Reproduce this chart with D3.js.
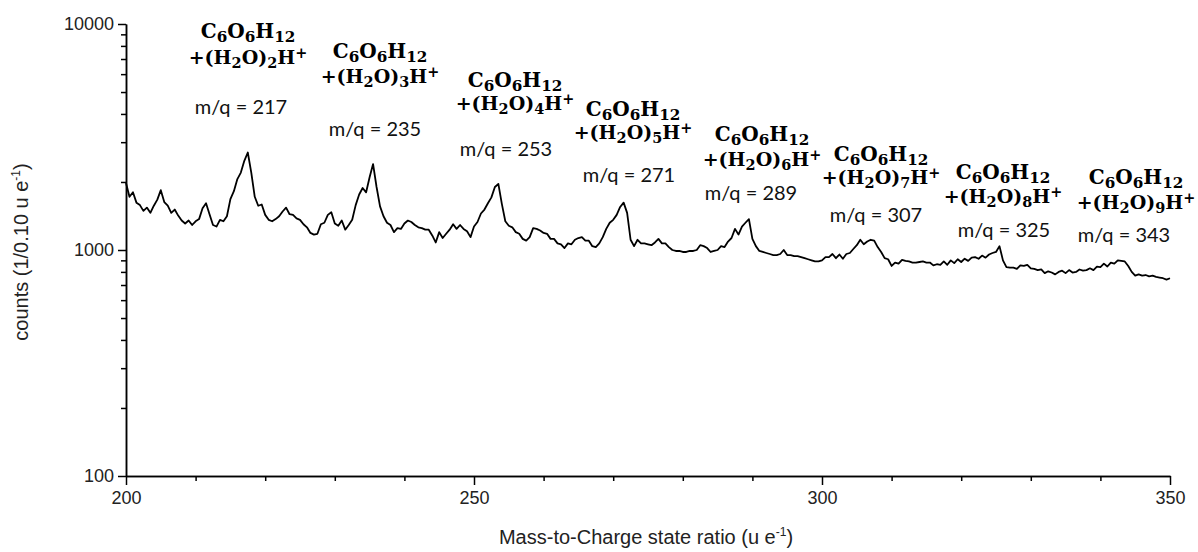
<!DOCTYPE html>
<html>
<head>
<meta charset="utf-8">
<script src="https://cdn.jsdelivr.net/npm/d3@7"></script>
<style>
  body { margin: 0; background: #fff; }
  svg { display: block; }
  .axis path, .axis line { stroke: #000; stroke-width: 1.5; }
  .axis text { font-family: "Liberation Sans", Arial, sans-serif; font-size: 18px; fill: #222; }
</style>
</head>
<body>
<div id="chart"></div>
<script>
// m/q values, 0.5 step from 200 to 350
var mzStart = 200, mzStep = 0.5;
// counts, one row per 10 u e-1
var counts = [
  1980,1720,1800,1620,1580,1490,1540,1460,1570,1670,1840,1630,1570,1460,1510,1420,1350,1310,1350,1290,
  1340,1370,1530,1610,1440,1290,1270,1360,1340,1410,1680,1820,2060,2200,2480,2700,2200,1720,1570,1590,
  1430,1360,1340,1370,1410,1480,1540,1440,1430,1380,1360,1300,1260,1190,1170,1180,1300,1320,1430,1470,
  1310,1280,1350,1230,1290,1360,1580,1760,1880,1800,2100,2400,1900,1560,1410,1320,1290,1200,1250,1240,
  1310,1350,1330,1290,1260,1250,1230,1230,1160,1080,1200,1130,1180,1230,1300,1240,1290,1240,1210,1140,
  1270,1330,1450,1510,1610,1710,1900,1960,1600,1340,1280,1260,1200,1180,1120,1100,1140,1250,1240,1220,
  1190,1180,1120,1120,1070,1060,1020,1070,1060,1110,1130,1140,1100,1100,1040,1030,1070,1140,1240,1320,
  1360,1430,1550,1620,1460,1110,1040,1110,1070,1070,1060,1050,1080,1120,1070,1070,1030,1000,990,990,
  980,980,990,990,1000,1050,1040,1020,980,990,1000,1040,1030,1090,1130,1240,1170,1270,1320,1370,
  1120,1040,990,980,970,960,950,950,960,1000,950,950,940,940,930,920,910,900,890,890,
  900,930,930,960,920,955,915,960,970,1010,1050,1110,1060,1090,1110,1100,1030,980,920,910,
  850,880,870,905,895,890,880,880,885,890,880,880,855,865,860,890,860,900,875,910,
  885,915,895,925,930,915,945,925,955,970,980,1040,900,840,835,835,825,855,850,860,
  830,825,815,820,790,805,795,780,800,810,790,815,795,800,820,810,815,830,815,845,
  840,870,845,880,870,900,895,890,850,800,770,780,770,775,765,770,760,755,750,740,750
];
var mz = counts.map(function(d, i) { return mzStart + i * mzStep; });

// peak annotations
var waters = [2, 3, 4, 5, 6, 7, 8, 9];
var peakMq = [217, 235, 253, 271, 289, 307, 325, 343];

// label placement (text centre x, centre y of formula line 1, line 2, m/q line)
var labelLayout = [
  {fx: 248, mx: 241, y1: 31, y2: 58, y3: 107},
  {fx: 380, mx: 375, y1: 51, y2: 77, y3: 129},
  {fx: 515, mx: 506, y1: 80, y2: 104, y3: 149},
  {fx: 633, mx: 629, y1: 109, y2: 133, y3: 175},
  {fx: 762, mx: 751, y1: 134, y2: 160, y3: 193},
  {fx: 881, mx: 876, y1: 154, y2: 178, y3: 215},
  {fx: 1003, mx: 1004, y1: 172, y2: 197, y3: 230},
  {fx: 1136, mx: 1124, y1: 177, y2: 203, y3: 235}
];

var W = 1198, H = 552;
var margin = {top: 24, right: 28, bottom: 76, left: 126},
    width = W - margin.left - margin.right,
    height = H - margin.top - margin.bottom;

var svg = d3.select("#chart").append("svg")
  .attr("width", W).attr("height", H);
var g = svg.append("g")
  .attr("transform", "translate(" + margin.left + "," + margin.top + ")");

var x = d3.scaleLinear().domain([200, 350]).range([0, width]);
var y = d3.scaleLog().domain([100, 10000]).range([height, 0]);

// x axis: majors + minors
var xMinor = d3.range(210, 350, 10).filter(function(v) { return v % 50 !== 0; });
g.append("g").attr("class", "axis")
  .attr("transform", "translate(0," + height + ")")
  .call(d3.axisBottom(x).tickValues(xMinor).tickSize(5).tickSizeOuter(0).tickFormat(""));
g.append("g").attr("class", "axis")
  .attr("transform", "translate(0," + height + ")")
  .call(d3.axisBottom(x).tickValues([200, 250, 300, 350]).tickSize(9).tickSizeOuter(0).tickPadding(6).tickFormat(d3.format("d")));

// y axis: decades + minors
var yMinor = [];
[100, 1000].forEach(function(dec) { for (var k = 2; k <= 9; k++) yMinor.push(dec * k); });
g.append("g").attr("class", "axis")
  .call(d3.axisLeft(y).tickValues(yMinor).tickSize(5).tickSizeOuter(0).tickFormat(""));
g.append("g").attr("class", "axis")
  .call(d3.axisLeft(y).tickValues([100, 1000, 10000]).tickSize(8).tickSizeOuter(0).tickPadding(4).tickFormat(d3.format("d")));

// spectrum
var line = d3.line()
  .x(function(d, i) { return x(mz[i]); })
  .y(function(d) { return y(d); });
g.append("path")
  .datum(counts)
  .attr("d", line)
  .attr("fill", "none")
  .attr("stroke", "#000")
  .attr("stroke-width", 1.8)
  .attr("stroke-linejoin", "round");

// axis titles
var xt = svg.append("text")
  .attr("x", margin.left + width / 2 - 2).attr("y", 544)
  .attr("text-anchor", "middle")
  .style("font-family", "Liberation Sans, Arial, sans-serif")
  .style("font-size", "20px").style("fill", "#222");
xt.append("tspan").text("Mass-to-Charge state ratio (u e");
xt.append("tspan").text("-1").attr("dy", -8).style("font-size", "12px");
xt.append("tspan").text(")").attr("dy", 8);

var yt = svg.append("text")
  .attr("transform", "translate(28,252) rotate(-90)")
  .attr("text-anchor", "middle")
  .style("font-family", "Liberation Sans, Arial, sans-serif")
  .style("font-size", "20px").style("fill", "#222");
yt.append("tspan").text("counts (1/0.10 u e");
yt.append("tspan").text("-1").attr("dy", -8).style("font-size", "12px");
yt.append("tspan").text(")").attr("dy", 8);

// rich text helper: parts of [text, kind]
function rich(sel, parts, base) {
  var shift = 0;
  parts.forEach(function(p) {
    var target = p[1] === "sub" ? base * 0.2 : p[1] === "sup" ? -base * 0.34 : 0;
    var t = sel.append("tspan").text(p[0]).attr("dy", target - shift);
    if (p[1] !== "n") t.style("font-size", (base * 0.76) + "px");
    shift = target;
  });
}

var fSize = 20;
waters.forEach(function(n, i) {
  var L = labelLayout[i];
  var t1 = svg.append("text")
    .attr("x", L.fx).attr("y", L.y1 + 7)
    .attr("text-anchor", "middle")
    .style("font-family", "DejaVu Serif, serif").style("font-weight", "bold")
    .style("font-size", fSize + "px").style("fill", "#000");
  rich(t1, [["C", "n"], ["6", "sub"], ["O", "n"], ["6", "sub"], ["H", "n"], ["12", "sub"]], fSize);

  var t2 = svg.append("text")
    .attr("x", L.fx).attr("y", L.y2 + 6)
    .attr("text-anchor", "middle")
    .style("font-family", "DejaVu Serif, serif").style("font-weight", "bold")
    .style("font-size", (fSize - 1) + "px").style("fill", "#000");
  rich(t2, [["+(H", "n"], ["2", "sub"], ["O)", "n"], [String(n), "sub"], ["H", "n"], ["+", "sup"]], fSize - 1);

  svg.append("text")
    .attr("x", L.mx).attr("y", L.y3 + 7)
    .attr("text-anchor", "middle")
    .style("font-family", "Lato, sans-serif")
    .style("font-size", "20px").style("fill", "#111")
    .text("m/q = " + peakMq[i]);
});
</script>
</body>
</html>
